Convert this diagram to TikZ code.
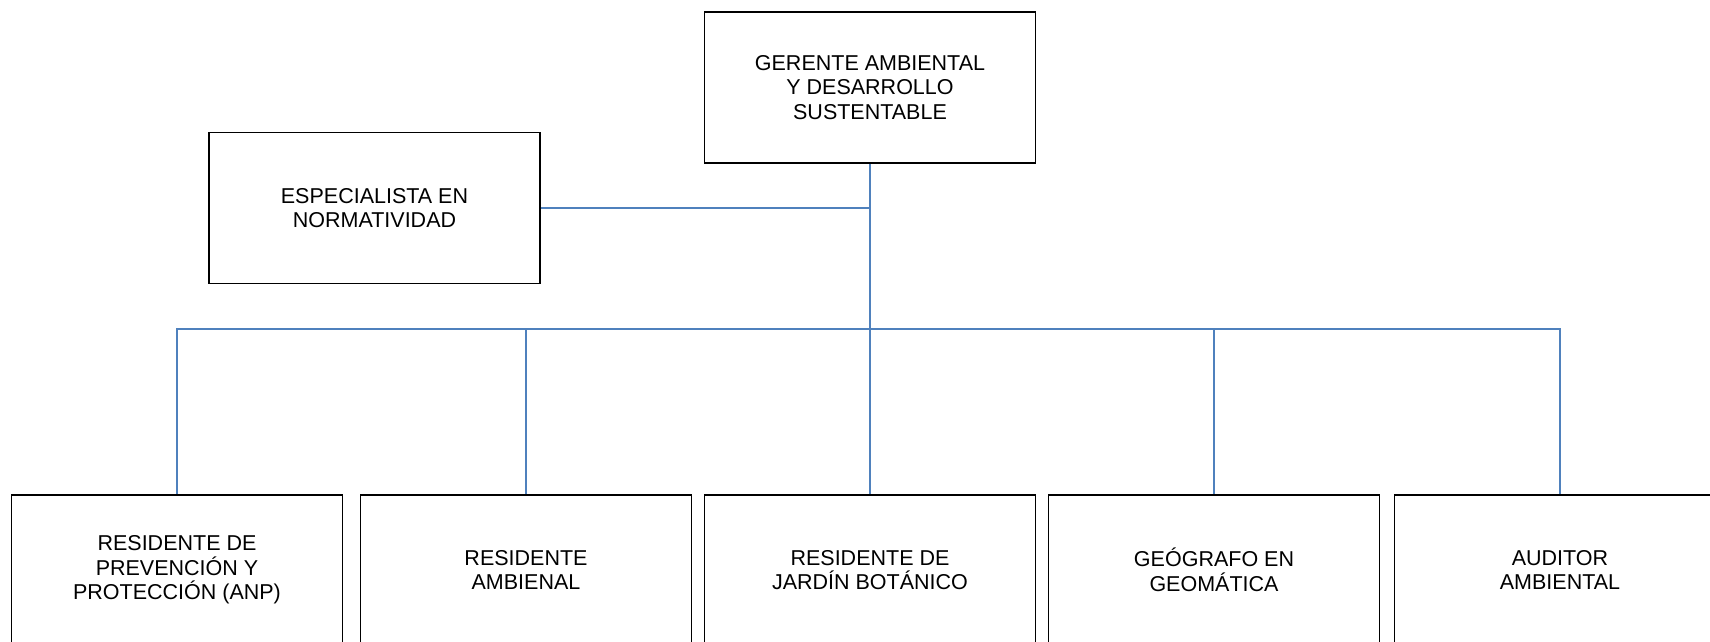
\documentclass[tikz,border=0pt]{standalone}
\usepackage{fontspec}
\setmainfont{Liberation Sans}
\usepackage{xcolor}
\usetikzlibrary{positioning}
\definecolor{linkblue}{RGB}{79,129,189}
\tikzset{post/.style={draw=black,line width=1.6pt,minimum width=331pt,minimum height=151pt,align=center,inner sep=2pt,font=\fontsize{21.5}{24.5}\selectfont},
         link/.style={draw=linkblue,line width=1.8pt}}

\begin{document}
\begin{tikzpicture}[x=1pt,y=-1pt]
      \useasboundingbox (0,0) rectangle (1710,642);
      \clip (0,0) rectangle (1710,642);

      \node[post] (gerente) at (870,87.5) {GERENTE AMBIENTAL\\Y DESARROLLO\\SUSTENTABLE};
      \node[post] (especialista) at (374.5,208) {ESPECIALISTA EN\\NORMATIVIDAD};

      % bottom row, cut off by the page edge
      \node[post,minimum height=150pt] (prevencion) at (177,570) {RESIDENTE DE\\PREVENCIÓN Y\\PROTECCIÓN (ANP)};
      \node[post,minimum height=150pt] (ambienal) at (526,570) {RESIDENTE\\AMBIENAL};
      \node[post,minimum height=150pt] (jardin) at (870,570) {RESIDENTE DE\\JARDÍN BOTÁNICO};
      \node[post,minimum height=150pt] (geografo) at (1214,570) {GEÓGRAFO EN\\GEOMÁTICA};
      \node[post,minimum height=150pt] (auditor) at (1560,570) {AUDITOR\\AMBIENTAL};

      \coordinate (bus) at (870,329);
      \draw[link] (gerente) -- (bus);
      \draw[link] (especialista) -- (especialista -| bus);
      \foreach \n in {prevencion,ambienal,jardin,geografo,auditor}
        \draw[link] (bus) -| (\n);
\end{tikzpicture}
\end{document}
